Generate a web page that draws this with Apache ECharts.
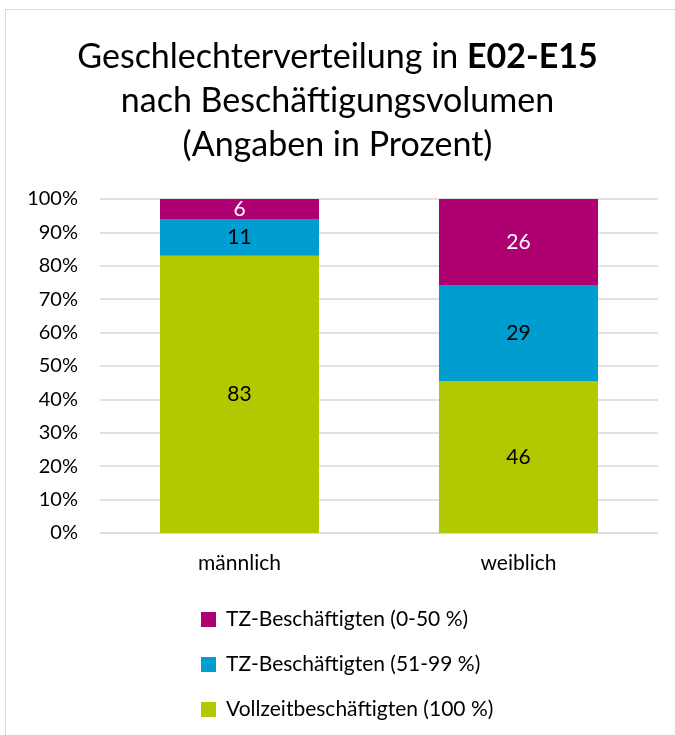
<!DOCTYPE html>
<html>
<head>
<meta charset="utf-8">
<script src="https://cdn.jsdelivr.net/npm/echarts@6/dist/echarts.min.js"></script>
<style>
  html, body { margin: 0; padding: 0; background: #fff; }
  #chart { width: 675px; height: 735px; }
</style>
</head>
<body>
<div id="chart"></div>
<script>
// Werte aus der Vorlage (Prozent)
const categories = ['männlich', 'weiblich'];
const vollzeit = [83, 46];
const tz5199 = [11, 29];
const tz050 = [6, 26];
const seriesNames = ['Vollzeitbeschäftigten (100 %)', 'TZ-Beschäftigten (51-99 %)', 'TZ-Beschäftigten (0-50 %)'];
const colors = ['#B2C800', '#009DD1', '#AF0072'];

// 100%-gestapelt: auf Summe je Kategorie normieren, Beschriftung zeigt Rohwert
const totals = categories.map((c, i) => vollzeit[i] + tz5199[i] + tz050[i]);
function norm(arr) {
    return arr.map((v, i) => ({ value: v / totals[i] * 100, raw: v }));
}

const font = 'Lato, "Open Sans", sans-serif';
const chart = echarts.init(document.getElementById('chart'));

const series = [vollzeit, tz5199, tz050].map((arr, k) => ({
    name: seriesNames[k],
    type: 'bar',
    stack: 'total',
    barWidth: '57%',
    data: norm(arr),
    itemStyle: { color: colors[k] },
    label: {
        show: true,
        position: 'inside',
        color: k == 2 ? '#fff' : '#000',
        fontSize: 21,
        fontFamily: font,
        formatter: p => p.data.raw
    }
}));

const option = {
    animation: false,
    title: {
        left: 'center',
        top: 35,
        padding: [0, 0, 0, 20],
        text: '{n|Geschlechterverteilung in }{b|E02-E15}\n{n|nach Beschäftigungsvolumen}\n{n|(Angaben in Prozent)}',
        textStyle: {
            rich: {
                n: { fontSize: 34, fontFamily: font, color: '#000', fontWeight: 'normal', lineHeight: 44 },
                b: { fontSize: 34, fontFamily: font, color: '#000', fontWeight: 'bold', lineHeight: 44 }
            }
        }
    },
    legend: {
        orient: 'vertical',
        left: 196,
        top: 604,
        itemGap: 24,
        itemWidth: 15,
        itemHeight: 15,
        icon: 'rect',
        data: [seriesNames[2], seriesNames[1], seriesNames[0]],
        textStyle: { fontSize: 21, fontFamily: font, color: '#000', padding: [0, 0, 0, 5] }
    },
    grid: { left: 100, right: 17, top: 199, bottom: 202 },
    xAxis: {
        type: 'category',
        data: categories,
        axisLine: { lineStyle: { color: '#d9d9d9' } },
        axisTick: { show: false },
        axisLabel: { fontSize: 21, fontFamily: font, color: '#000', margin: 20 }
    },
    yAxis: {
        type: 'value',
        min: 0,
        max: 100,
        interval: 10,
        axisLine: { show: false },
        axisTick: { show: false },
        splitLine: { lineStyle: { color: '#d9d9d9', width: 1.5 } },
        axisLabel: { fontSize: 20, fontFamily: font, color: '#000', margin: 22, formatter: '{value}%' }
    },
    graphic: [
        { type: 'line', shape: { x1: 5.5, y1: 9, x2: 5.5, y2: 735 }, style: { stroke: '#d9d9d9', lineWidth: 1 } },
        { type: 'line', shape: { x1: 5, y1: 9.5, x2: 675, y2: 9.5 }, style: { stroke: '#d9d9d9', lineWidth: 1 } }
    ],
    series: series
};

chart.setOption(option);
window.addEventListener('resize', function () {
    chart.resize();
});
</script>
</body>
</html>
